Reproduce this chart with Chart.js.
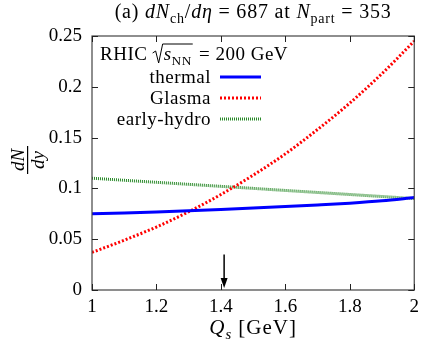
<!DOCTYPE html>
<html>
<head>
<meta charset="utf-8">
<script src="https://cdn.jsdelivr.net/npm/chart.js@4"></script>
<style>
  html, body { margin: 0; padding: 0; background: #fff; }
  #wrap { width: 425px; height: 340px; }
</style>
</head>
<body>
<div id="wrap"><canvas id="qsChart" width="425" height="340"></canvas></div>
<script>
// data
const qsValues = [1.0, 1.1, 1.2, 1.3, 1.4, 1.5, 1.6, 1.7, 1.8, 1.9, 2.0];
const thermalValues = [0.075, 0.0758, 0.0768, 0.0779, 0.0792, 0.0806, 0.0821, 0.0837, 0.0855, 0.0878, 0.091];
const glasmaValues = [0.037, 0.049, 0.062, 0.077, 0.094, 0.113, 0.134, 0.158, 0.184, 0.213, 0.245];
const hydroValues = [0.110, 0.108, 0.106, 0.104, 0.102, 0.100, 0.098, 0.096, 0.094, 0.092, 0.090];
const seriesNames = ["thermal", "Glasma", "early-hydro"];
const xTicks = [1, 1.2, 1.4, 1.6, 1.8, 2];
const yTicks = [0, 0.05, 0.1, 0.15, 0.2, 0.25];
const arrowX = 1.41;
const arrowY = [0.035, 0.002];

const serif = '"Liberation Serif", "DejaVu Serif", serif';

function toPoints(ys) {
    return qsValues.map((x, i) => ({ x: x, y: ys[i] }));
}

// draw text runs: {t, it (italic), sub}
function drawRuns(ctx, runs, x, y, size, align) {
    let total = 0;
    runs.forEach(r => {
        ctx.font = (r.it ? "italic " : "") + (r.sub ? size * 0.7 : size) + "px " + serif;
        r.w = ctx.measureText(r.t).width;
        total += r.w;
    });
    let cx = align === "center" ? x - total / 2 : (align === "right" ? x - total : x);
    runs.forEach(r => {
        ctx.font = (r.it ? "italic " : "") + (r.sub ? size * 0.7 : size) + "px " + serif;
        ctx.fillText(r.t, cx, r.sub ? y + size * 0.25 : y);
        cx += r.w;
    });
    return total;
}

const decorPlugin = {
    id: "decor",
    afterDraw(chart) {
        const ctx = chart.ctx;
        const a = chart.chartArea;
        const xs = chart.scales.x, ys = chart.scales.y;
        ctx.save();
        ctx.fillStyle = "#000";
        ctx.textBaseline = "alphabetic";
        ctx.textAlign = "left";

        // title
        ctx.letterSpacing = "0.8px";
        drawRuns(ctx, [
            { t: "(a) " }, { t: "dN", it: true }, { t: "ch", sub: true },
            { t: "/" }, { t: "dη", it: true }, { t: " = 687 at " },
            { t: "N", it: true }, { t: "part", sub: true }, { t: " = 353" }
        ], (a.left + a.right) / 2, 18, 20, "center");

        // x axis title
        ctx.letterSpacing = "1px";
        drawRuns(ctx, [{ t: "Q", it: true }, { t: "s", it: true, sub: true }, { t: " [GeV]" }],
            (a.left + a.right) / 2, 334, 21, "center");
        ctx.letterSpacing = "0px";

        // y axis title: rotated fraction dN/dy
        ctx.save();
        ctx.translate(29, 160);
        ctx.rotate(-Math.PI / 2);
        ctx.textAlign = "center";
        ctx.font = "italic 19px " + serif;
        ctx.fillText("dN", 0, -5);
        ctx.fillText("dy", 0, 15);
        ctx.fillRect(-14, -2, 28, 1.2);
        ctx.restore();

        // frame
        ctx.strokeStyle = "#444";
        ctx.lineWidth = 1.2;
        ctx.strokeRect(a.left, a.top, a.right - a.left, a.bottom - a.top);

        // inward ticks on all sides
        ctx.strokeStyle = "#222";
        ctx.lineWidth = 1;
        xTicks.forEach(v => {
            const px = Math.round(xs.getPixelForValue(v)) + 0.5;
            ctx.beginPath();
            ctx.moveTo(px, a.bottom); ctx.lineTo(px, a.bottom - 6);
            ctx.moveTo(px, a.top); ctx.lineTo(px, a.top + 6);
            ctx.stroke();
        });
        yTicks.forEach(v => {
            const py = Math.round(ys.getPixelForValue(v)) + 0.5;
            ctx.beginPath();
            ctx.moveTo(a.left, py); ctx.lineTo(a.left + 6, py);
            ctx.moveTo(a.right, py); ctx.lineTo(a.right - 6, py);
            ctx.stroke();
        });

        // arrow
        const ax = xs.getPixelForValue(arrowX);
        const ay0 = ys.getPixelForValue(arrowY[0]);
        const ay1 = ys.getPixelForValue(arrowY[1]);
        ctx.strokeStyle = "#000";
        ctx.lineWidth = 1.5;
        ctx.beginPath();
        ctx.moveTo(ax, ay0); ctx.lineTo(ax, ay1 - 6);
        ctx.stroke();
        ctx.beginPath();
        ctx.moveTo(ax, ay1); ctx.lineTo(ax - 3.5, ay1 - 10); ctx.lineTo(ax + 3.5, ay1 - 10);
        ctx.closePath();
        ctx.fill();

        // legend header with sqrt sign
        ctx.letterSpacing = "0.5px";
        const hs = 19;
        let rx = 100 + drawRuns(ctx, [{ t: "RHIC " }], 100, 60, hs, "left");
        const sx = rx + 11;
        const sw = drawRuns(ctx, [{ t: "s", it: true }, { t: "NN", sub: true }], sx, 60, hs, "left");
        ctx.strokeStyle = "#000";
        ctx.lineWidth = 1;
        ctx.beginPath();
        ctx.moveTo(rx, 53); ctx.lineTo(rx + 3, 51); ctx.lineTo(rx + 6, 63);
        ctx.lineTo(rx + 10, 44); ctx.lineTo(sx + sw + 1, 44);
        ctx.stroke();
        drawRuns(ctx, [{ t: " = 200 GeV" }], sx + sw + 2, 60, hs, "left");

        const legendRows = [
            { y: 83, color: "#0000ff", dash: [] },
            { y: 104, color: "#ff0000", dash: [2, 2] },
            { y: 125, color: "#2a8a2a", dash: [1, 1] }
        ];
        legendRows.forEach((r, i) => {
            drawRuns(ctx, [{ t: seriesNames[i] }], 211, r.y, 19, "right");
            ctx.strokeStyle = r.color;
            ctx.lineWidth = 3;
            ctx.setLineDash(r.dash);
            ctx.beginPath();
            ctx.moveTo(220, r.y - 6); ctx.lineTo(261, r.y - 6);
            ctx.stroke();
            ctx.setLineDash([]);
        });
        ctx.restore();
    }
};

document.addEventListener("DOMContentLoaded", function () {
    let ctx = document.getElementById("qsChart").getContext("2d");

    new Chart(ctx, {
        type: "line",
        data: {
            datasets: [{
                label: seriesNames[0],
                data: toPoints(thermalValues),
                borderColor: "#0000ff",
                borderWidth: 3,
                cubicInterpolationMode: "monotone"
            }, {
                label: seriesNames[1],
                data: toPoints(glasmaValues),
                borderColor: "#ff0000",
                borderWidth: 3,
                borderDash: [2, 2],
                cubicInterpolationMode: "monotone"
            }, {
                label: seriesNames[2],
                data: toPoints(hydroValues),
                borderColor: "#2a8a2a",
                borderWidth: 3,
                borderDash: [1, 1]
            }]
        },
        options: {
            responsive: false,
            animation: false,
            events: [],
            layout: { padding: { top: 36, right: 8, left: 0, bottom: 0 } },
            elements: { point: { radius: 0 } },
            plugins: {
                legend: { display: false },
                tooltip: { enabled: false }
            },
            scales: {
                x: {
                    type: "linear",
                    min: 1,
                    max: 2,
                    afterBuildTicks: s => { s.ticks = xTicks.map(v => ({ value: v })); },
                    afterFit: s => { s.height = 50; },
                    grid: { display: false, drawTicks: false },
                    border: { display: false },
                    ticks: {
                        color: "#000",
                        padding: 6,
                        font: { family: serif, size: 19 },
                        callback: v => String(v)
                    }
                },
                y: {
                    min: 0,
                    max: 0.25,
                    afterBuildTicks: s => { s.ticks = yTicks.map(v => ({ value: v })); },
                    afterFit: s => { s.width = 92; },
                    grid: { display: false, drawTicks: false },
                    border: { display: false },
                    ticks: {
                        color: "#000",
                        padding: 10,
                        font: { family: serif, size: 19 },
                        callback: v => String(v)
                    }
                }
            }
        },
        plugins: [decorPlugin]
    });
});
</script>
</body>
</html>
